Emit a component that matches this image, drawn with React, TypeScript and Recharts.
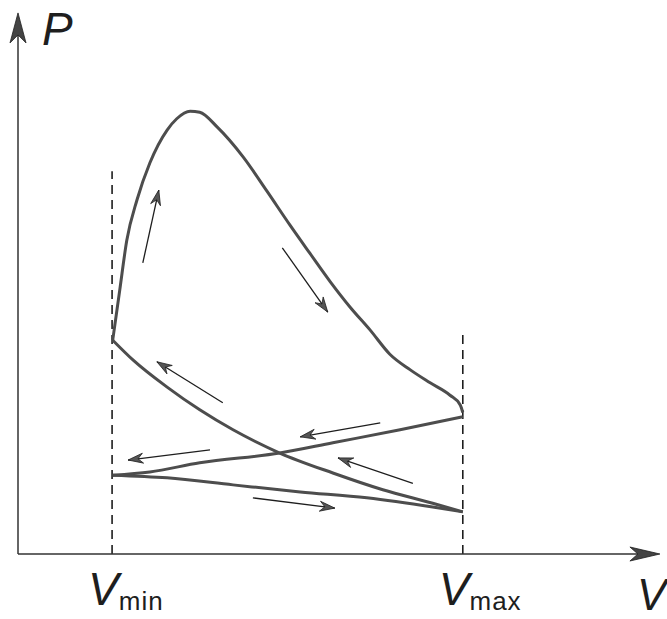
import { ComposedChart, Line, XAxis, YAxis, ReferenceLine } from 'recharts'

// volume (0-100) vs pressure (0-100), arbitrary units
const V_MIN = 14.7
const V_MAX = 69.5

const volumeTicks = [V_MIN, V_MAX]
const tickSubscripts = ['min', 'max']

// power stroke: rise at V_min, peak, expansion down to V_max
const expansion = [
  { v: 14.8, p: 39.6 }, { v: 15.9, p: 48.9 }, { v: 17.0, p: 58.1 }, { v: 18.6, p: 65.6 },
  { v: 20.6, p: 72.4 }, { v: 23.3, p: 78.5 }, { v: 24.8, p: 80.6 }, { v: 26.9, p: 82.0 },
  { v: 28.4, p: 81.8 }, { v: 31.1, p: 79.1 }, { v: 35.2, p: 73.5 }, { v: 38.9, p: 67.2 },
  { v: 42.5, p: 60.9 }, { v: 45.6, p: 55.7 }, { v: 48.8, p: 50.4 }, { v: 51.9, p: 45.7 },
  { v: 55.0, p: 41.5 }, { v: 58.1, p: 37.0 }, { v: 61.3, p: 34.1 }, { v: 64.4, p: 31.7 },
  { v: 67.5, p: 29.4 }, { v: 69.1, p: 27.6 }, { v: 69.5, p: 26.2 },
]

const exhaust = [
  { v: 14.8, p: 14.6 }, { v: 20.6, p: 15.2 }, { v: 28.4, p: 16.9 }, { v: 40.9, p: 18.7 },
  { v: 49.2, p: 20.6 }, { v: 59.7, p: 23.0 }, { v: 69.5, p: 25.4 },
]

const intake = [
  { v: 14.8, p: 14.6 }, { v: 23.3, p: 14.1 }, { v: 33.6, p: 12.8 }, { v: 44.1, p: 11.5 },
  { v: 54.5, p: 10.4 }, { v: 64.8, p: 8.7 }, { v: 69.5, p: 7.8 },
]

const compression = [
  { v: 14.8, p: 39.6 }, { v: 18.0, p: 35.9 }, { v: 23.3, p: 30.9 }, { v: 28.4, p: 26.7 },
  { v: 33.6, p: 23.0 }, { v: 40.9, p: 18.7 }, { v: 49.2, p: 15.0 }, { v: 57.0, p: 11.9 },
  { v: 64.8, p: 9.4 }, { v: 69.5, p: 7.8 },
]

// direction arrows: tail -> tip
const arrows = [
  { from: { v: 19.5, p: 53.9 }, to: { v: 22.0, p: 67.4 } },
  { from: { v: 41.3, p: 56.7 }, to: { v: 48.4, p: 44.8 } },
  { from: { v: 32.0, p: 28.0 }, to: { v: 21.7, p: 35.6 } },
  { from: { v: 56.6, p: 24.3 }, to: { v: 44.1, p: 21.7 } },
  { from: { v: 30.0, p: 19.3 }, to: { v: 17.2, p: 17.4 } },
  { from: { v: 61.7, p: 13.1 }, to: { v: 50.0, p: 17.8 } },
  { from: { v: 36.7, p: 10.4 }, to: { v: 49.5, p: 8.5 } },
]

const CURVE = '#4d4d4d'
const INK = '#1e1e1e'
const FONT = '"Liberation Sans", Arial, sans-serif'

const head = (x1: number, y1: number, x2: number, y2: number, len: number, half: number, notch: number) => {
  const a = Math.atan2(y2 - y1, x2 - x1)
  const c = Math.cos(a), s = Math.sin(a)
  const bx = x2 - len * c, by = y2 - len * s
  const nx = x2 - (len - notch) * c, ny = y2 - (len - notch) * s
  return `${x2},${y2} ${bx - half * s},${by + half * c} ${nx},${ny} ${bx + half * s},${by - half * c}`
}

const arrowShape = (props: any) => {
  const { x1, y1, x2, y2 } = props
  return (
    <g>
      <line x1={x1} y1={y1} x2={x2} y2={y2} stroke={INK} strokeWidth={1.3} />
      <polygon points={head(x1, y1, x2, y2, 15, 5, 5)} fill="#555" stroke={INK} strokeWidth={0.8} />
    </g>
  )
}

const yAxisArrow = (props: any) => {
  const { x1, y1, x2, y2 } = props
  return (
    <g>
      <line x1={x1} y1={y1} x2={x2} y2={y2 + 10} stroke="#333" strokeWidth={1.5} />
      <polygon points={head(x1, y1, x2, y2, 30, 8, 8)} fill="#444" stroke={INK} strokeWidth={0.8} />
      <text x={x2 + 24} y={y2 + 32} fontFamily={FONT} fontStyle="italic" fontSize={46} fill={INK}>P</text>
    </g>
  )
}

const xAxisArrow = (props: any) => {
  const { x1, y1, x2, y2 } = props
  return (
    <g>
      <line x1={x1} y1={y1} x2={x2 - 10} y2={y2} stroke="#333" strokeWidth={1.5} />
      <polygon points={head(x1, y1, x2, y2, 30, 7, 8)} fill="#444" stroke={INK} strokeWidth={0.8} />
      <text x={x2 - 23} y={y2 + 56} fontFamily={FONT} fontStyle="italic" fontSize={44} fill={INK}>V</text>
    </g>
  )
}

const VolumeTick = (props: any) => {
  const { x, y, index } = props
  return (
    <text x={x - 24} y={y + 43} fontFamily={FONT} fill={INK}>
      <tspan fontStyle="italic" fontSize={46}>V</tspan>
      <tspan fontSize={26} dy={5} letterSpacing={1}>{tickSubscripts[index]}</tspan>
    </text>
  )
}

export default function App() {
  return (
    <div style={{ position: 'absolute', left: 0, top: 0, background: '#fff' }}>
      <ComposedChart width={667} height={619} margin={{ top: 14, right: 9, bottom: 64, left: 17 }}>
        <XAxis
          dataKey="v" type="number" domain={[0, 100]} ticks={volumeTicks}
          height={1} tickLine={false} tick={VolumeTick} axisLine={false} allowDataOverflow
        />
        <YAxis
          dataKey="p" type="number" domain={[0, 100]} width={1}
          tick={false} tickLine={false} axisLine={false} allowDataOverflow
        />

        <ReferenceLine segment={[{ x: V_MIN, y: 0 }, { x: V_MIN, y: 70.9 }]}
          stroke={INK} strokeWidth={1.6} strokeDasharray="9 6" />
        <ReferenceLine segment={[{ x: V_MAX, y: 0 }, { x: V_MAX, y: 41.1 }]}
          stroke={INK} strokeWidth={1.6} strokeDasharray="9 6" />

        <Line data={expansion} dataKey="p" type="monotone" stroke={CURVE} strokeWidth={3}
          dot={false} activeDot={false} isAnimationActive={false} />
        <Line data={exhaust} dataKey="p" type="monotone" stroke={CURVE} strokeWidth={3}
          dot={false} activeDot={false} isAnimationActive={false} />
        <Line data={intake} dataKey="p" type="monotone" stroke={CURVE} strokeWidth={3}
          dot={false} activeDot={false} isAnimationActive={false} />
        <Line data={compression} dataKey="p" type="monotone" stroke={CURVE} strokeWidth={3}
          dot={false} activeDot={false} isAnimationActive={false} />

        {arrows.map((a, i) => (
          <ReferenceLine key={i} segment={[{ x: a.from.v, y: a.from.p }, { x: a.to.v, y: a.to.p }]}
            shape={arrowShape} ifOverflow="visible" />
        ))}

        {/* axes drawn as arrows */}
        <ReferenceLine segment={[{ x: 0, y: 0 }, { x: 0, y: 100.2 }]} shape={yAxisArrow} ifOverflow="visible" />
        <ReferenceLine segment={[{ x: 0, y: 0 }, { x: 100.3, y: 0 }]} shape={xAxisArrow} ifOverflow="visible" />
      </ComposedChart>
    </div>
  )
}
